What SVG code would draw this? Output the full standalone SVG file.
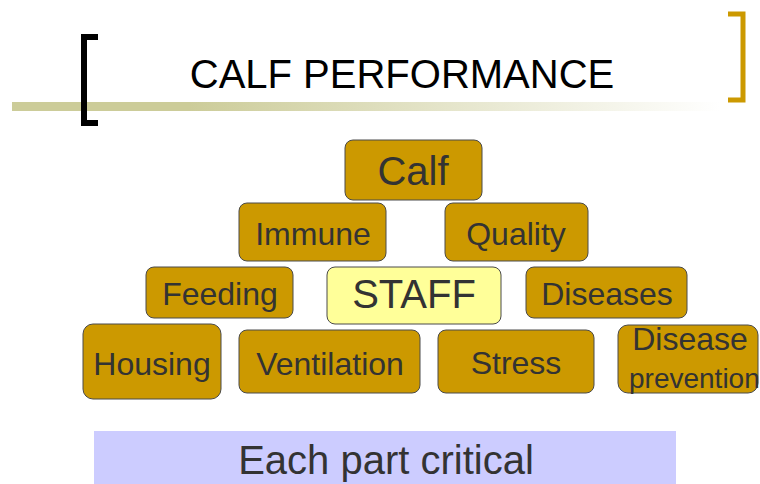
<svg xmlns="http://www.w3.org/2000/svg" width="760" height="484" viewBox="0 0 760 484">
<defs>
<linearGradient id="bar" x1="0" y1="0" x2="1" y2="0">
<stop offset="0" stop-color="#CCCC99"/>
<stop offset="0.25" stop-color="#CCCC99"/>
<stop offset="1" stop-color="#FFFFFF"/>
</linearGradient>
<style>
.box{fill:#CC9900;stroke:#4a4a4a;stroke-width:1}
.staff{fill:#FFFF99;stroke:#4a4a4a;stroke-width:1}
.t{font-family:"Liberation Sans",Arial,sans-serif;fill:#333333;text-anchor:middle}
</style>
</defs>
<rect width="760" height="484" fill="#FFFFFF"/>
<g id="header">
<rect x="12" y="102" width="708" height="9" fill="url(#bar)"/>
<path d="M98,37 H84 V123 H98" fill="none" stroke="#000000" stroke-width="6"/>
<path d="M728,14 H743 V100 H728" fill="none" stroke="#CC9900" stroke-width="5"/>
<text class="t" x="402" y="88" font-size="40" fill="#000000" style="fill:#000000">CALF PERFORMANCE</text>
</g>
<g id="connectors"></g>
<g id="calf"><rect class="box" x="345" y="140" width="137" height="60" rx="8"/><text class="t" x="413" y="185" font-size="40">Calf</text></g>
<g id="immune"><rect class="box" x="239" y="203" width="147" height="58" rx="8"/><text class="t" x="313" y="245" font-size="32">Immune</text></g>
<g id="quality"><rect class="box" x="445" y="203" width="143" height="58" rx="8"/><text class="t" x="516" y="245" font-size="32">Quality</text></g>
<g id="feeding"><rect class="box" x="146" y="267" width="147" height="51" rx="8"/><text class="t" x="220" y="305" font-size="32">Feeding</text></g>
<g id="staff"><rect class="staff" x="327" y="267" width="174" height="57" rx="8"/><text class="t" x="414" y="308" font-size="40">STAFF</text></g>
<g id="diseases"><rect class="box" x="526" y="267" width="161" height="51" rx="8"/><text class="t" x="607" y="305" font-size="32">Diseases</text></g>
<g id="housing"><rect class="box" x="83" y="324" width="138" height="75" rx="10"/><text class="t" x="152" y="375" font-size="32">Housing</text></g>
<g id="ventilation"><rect class="box" x="239" y="330" width="181" height="63" rx="8"/><text class="t" x="330" y="375" font-size="32">Ventilation</text></g>
<g id="stress"><rect class="box" x="438" y="330" width="156" height="63" rx="8"/><text class="t" x="516" y="374" font-size="32">Stress</text></g>
<g id="prevention"><rect class="box" x="618" y="325" width="140" height="68" rx="10"/><text class="t" x="690" y="350" font-size="32">Disease</text><text class="t" x="629" y="388" font-size="28" style="text-anchor:start">prevention</text></g>
<g id="banner"><rect x="94" y="431" width="582" height="53" fill="#CCCCFF"/><text class="t" x="386" y="474" font-size="40">Each part critical</text></g>
</svg>
